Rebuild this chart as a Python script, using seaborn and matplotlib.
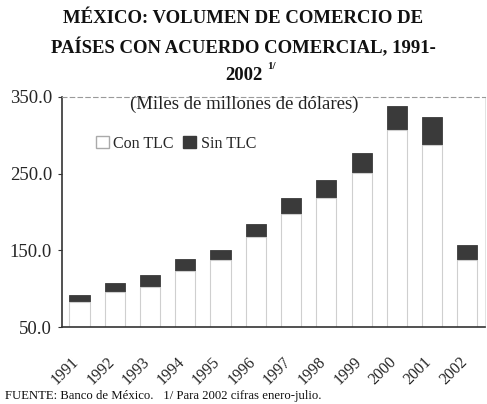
import matplotlib
matplotlib.use("Agg")
import matplotlib.pyplot as plt
import matplotlib.patches as mpatches
import matplotlib.transforms as mtransforms
import seaborn as sns
import pandas as pd

years = ["1991", "1992", "1993", "1994", "1995", "1996",
         "1997", "1998", "1999", "2000", "2001", "2002"]
con_tlc = [83, 96, 103, 123, 137, 167, 197, 219, 251, 307, 287, 137]
sin_tlc = [9, 12, 15, 16, 14, 17, 22, 23, 26, 31, 37, 20]
y_ticks = [50.0, 150.0, 250.0, 350.0]

total = [c + s for c, s in zip(con_tlc, sin_tlc)]
df = pd.DataFrame({"year": years, "con": con_tlc, "total": total})

sns.set_theme(style="white")
plt.rcParams["font.family"] = ["Liberation Serif", "DejaVu Serif"]

fig = plt.figure(figsize=(4.87, 4.04), dpi=100)
ax = fig.add_axes([0.127, 0.19, 0.869, 0.57])

dark = "#3a3a3a"
sns.barplot(data=df, x="year", y="total", color=dark, saturation=1,
            width=0.57, edgecolor=dark, linewidth=0.6, ax=ax)
sns.barplot(data=df, x="year", y="con", color="white", saturation=1,
            width=0.57, edgecolor="#cfcfcf", linewidth=0.8, ax=ax)

ax.set_ylim(50, 350)
ax.set_yticks(y_ticks)
ax.set_yticklabels([f"{v:.1f}" for v in y_ticks], fontsize=13.5)
ax.set_xlim(-0.5, len(years) - 0.5)
ax.set_xlabel("")
ax.set_ylabel("")
ax.tick_params(axis="y", length=3, width=0.8, color="#333333", pad=4, direction="out", left=True)
ax.tick_params(axis="x", length=0, pad=2)
offset = mtransforms.ScaledTranslation(-6 / 72, -17 / 72, fig.dpi_scale_trans)
for lab in ax.get_xticklabels():
    lab.set_rotation(45)
    lab.set_ha("right")
    lab.set_va("top")
    lab.set_rotation_mode("anchor")
    lab.set_fontsize(11.5)
    lab.set_transform(lab.get_transform() + offset)

ax.spines["left"].set_color("#333333")
ax.spines["left"].set_linewidth(1.2)
ax.spines["bottom"].set_color("#333333")
ax.spines["bottom"].set_linewidth(1.2)
ax.spines["top"].set_color("#9a9a9a")
ax.spines["top"].set_linestyle((0, (4, 3)))
ax.spines["top"].set_linewidth(0.8)
ax.spines["right"].set_color("#dddddd")
ax.spines["right"].set_linewidth(0.6)

ax.text(0.43, 0.97, "(Miles de millones de dólares)", transform=ax.transAxes,
        ha="center", va="center", fontsize=13.5, color="#222222")

handles = [mpatches.Patch(facecolor="white", edgecolor="#aaaaaa", label="Con TLC"),
           mpatches.Patch(facecolor=dark, edgecolor=dark, label="Sin TLC")]
ax.legend(handles=handles, loc="upper left", bbox_to_anchor=(0.065, 0.86), ncol=2,
          frameon=False, fontsize=11.5, handlelength=0.8, handleheight=0.8,
          handletextpad=0.3, columnspacing=0.6, borderaxespad=0)

fig.text(0.5, 0.955, "MÉXICO: VOLUMEN DE COMERCIO DE", ha="center", va="center",
         fontsize=13.5, fontweight="bold", color="#111111")
fig.text(0.5, 0.882, "PAÍSES CON ACUERDO COMERCIAL, 1991-", ha="center", va="center",
         fontsize=13.5, fontweight="bold", color="#111111")
fig.text(0.5, 0.812, "2002", ha="center", va="center",
         fontsize=13.5, fontweight="bold", color="#111111")
fig.text(0.548, 0.835, "1/", ha="left", va="center",
         fontsize=8, fontweight="bold", color="#111111")

fig.text(0.01, 0.02, "FUENTE: Banco de México.   1/ Para 2002 cifras enero-julio.",
         ha="left", va="center", fontsize=9.2, color="#111111")

fig.savefig("out.png", dpi=100)
